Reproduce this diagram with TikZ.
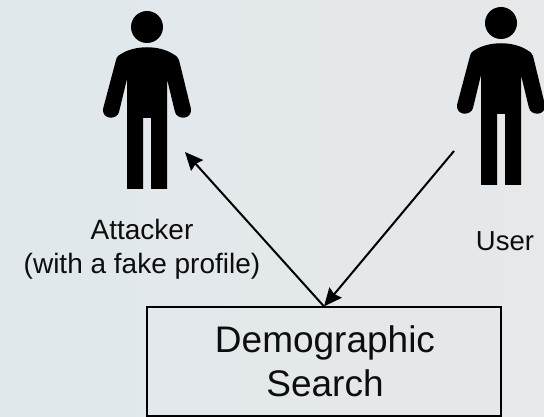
\documentclass[tikz,border=0pt]{standalone}
\usepackage{fontspec}
\setmainfont{Liberation Sans}
\usetikzlibrary{arrows.meta,shadings}
\definecolor{bgl}{HTML}{E0E8EC}
\definecolor{bgr}{HTML}{E6E8EA}
\tikzset{
  x=1pt,y=-1pt,
  person/.pic={
    \fill[black] (147,27) circle[radius=16];
    \fill[black] (127,189) -- (127,79) -- (119,112)
      .. controls (117,120) and (102,120) .. (103,109)
      -- (116,60) .. controls (117,56) and (119,55) .. (121,54)
      .. controls (135,45) and (159,45) .. (173,54)
      .. controls (175,55) and (177,56) .. (179,60)
      -- (191,109) .. controls (192,120) and (177,120) .. (175,112)
      -- (167,79) -- (167,189) -- (151,189) -- (151,118) -- (143,118) -- (143,189) -- cycle;
  },
  box/.style={draw=black,line width=1.2pt,minimum width=354,minimum height=109,inner sep=0pt},
  conn/.style={draw=black,line width=2pt,-{Stealth[length=18pt,width=16pt,inset=2pt]}},
  bigtext/.style={font=\fontsize{37}{44}\selectfont,align=center,inner sep=0pt,text=black!95},
  smalltext/.style={font=\fontsize{28}{34}\selectfont,align=center,inner sep=0pt,text=black!95},
  usertext/.style={font=\fontsize{27.5}{34}\selectfont,inner sep=0pt,text=black!95},
}
\begin{document}
\begin{tikzpicture}
\useasboundingbox (0,0) rectangle (544,417);
\shade[left color=bgl,right color=bgr] (0,0) rectangle (544,417);
\pic at (0,0) {person};
\pic at (354,-4) {person};
\node[box] (search) at (324,361.5) {};
\node[bigtext] (searchtext) at (325,361.5) {Demographic\\Search};
\node[smalltext] (attacker) at (142,249.7) {Attacker\\(with a fake profile)};
\node[usertext] (user) at (505,241) {User};
\coordinate (atip) at (185,152);
\coordinate (ustart) at (454,151);
\draw[conn] (search.north) -- (atip);
\draw[conn] (ustart) -- (search.north);
\end{tikzpicture}
\end{document}
